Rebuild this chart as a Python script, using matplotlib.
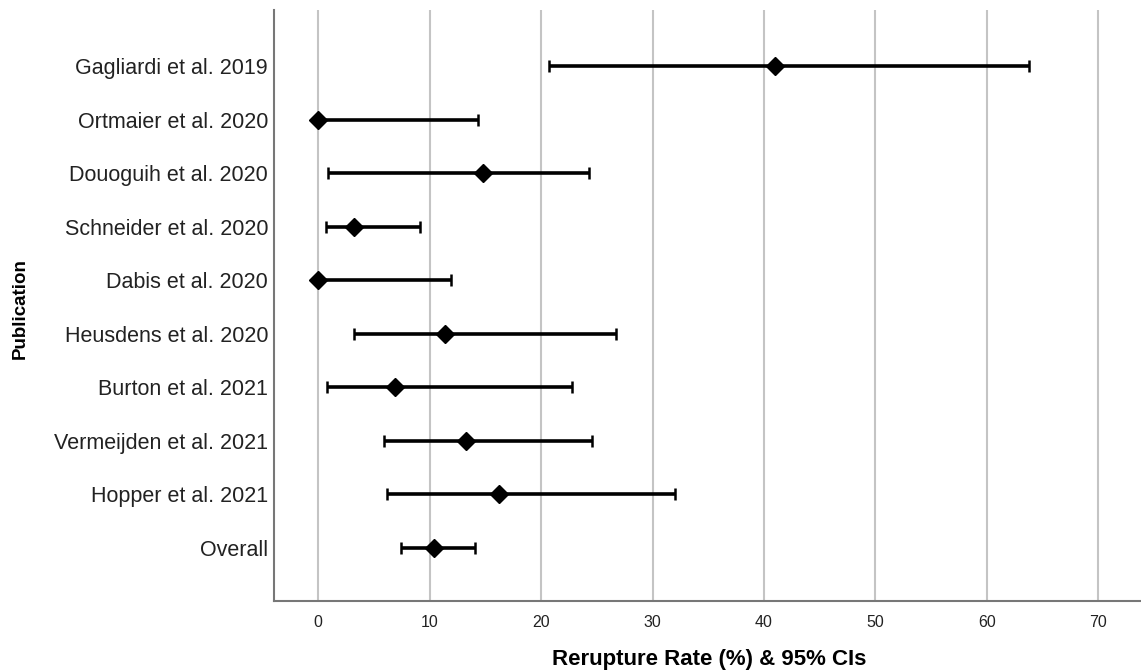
import matplotlib
matplotlib.use("Agg")
import matplotlib.pyplot as plt
import numpy as np

plt.rcParams['font.family'] = ['Liberation Sans', 'DejaVu Sans']

publications = ["Gagliardi et al. 2019", "Ortmaier et al. 2020", "Douoguih et al. 2020",
                "Schneider et al. 2020", "Dabis et al. 2020", "Heusdens et al. 2020",
                "Burton et al. 2021", "Vermeijden et al. 2021", "Hopper et al. 2021", "Overall"]
rate = [41.0, 0.0, 14.8, 3.2, 0.0, 11.4, 6.9, 13.3, 16.2, 10.4]
ci_low = [20.7, 0.0, 0.9, 0.7, 0.0, 3.2, 0.75, 5.9, 6.2, 7.4]
ci_high = [63.8, 14.3, 24.3, 9.1, 11.9, 26.7, 22.8, 24.6, 32.0, 14.1]
xticks = [0, 10, 20, 30, 40, 50, 60, 70]

W, H = 1141, 671
L, B, T = 274.3, 601, 10
fig = plt.figure(figsize=(W/100, H/100), dpi=100)
ax = fig.add_axes([L/W, 1 - B/H, 1 - L/W, (B - T)/H])

y = np.arange(len(publications))
r = np.array(rate)
err = np.vstack([r - np.array(ci_low), np.array(ci_high) - r])
ax.errorbar(r, y, xerr=err, fmt='D', color='black', ecolor='black',
            elinewidth=2.6, capsize=4.5, capthick=1.8, markersize=9.5, zorder=3)

ax.set_xlim(-3.95, 73.85)
ax.set_ylim(len(publications) - 1 + 1.0, -1.05)
ax.set_xticks(xticks)
ax.set_xticklabels([str(t) for t in xticks], fontsize=11.5, color='#222222')
ax.set_yticks(y)
ax.set_yticklabels(publications, fontsize=15.5, color='#222222')
ax.tick_params(axis='both', length=0)
ax.tick_params(axis='x', pad=10)
ax.tick_params(axis='y', pad=4.5)
ax.grid(axis='x', color='#c4c4c4', linewidth=1.5, zorder=0)
ax.set_axisbelow(True)
for s in ['top', 'right']:
    ax.spines[s].set_visible(False)
for s in ['left', 'bottom']:
    ax.spines[s].set_color('#777777')
    ax.spines[s].set_linewidth(1.5)

aw, ah = W - L, B - T
ax.set_xlabel("Rerupture Rate (%) & 95% CIs", fontsize=16, fontweight='bold')
ax.xaxis.set_label_coords((709 - L) / aw, (B - 659) / ah)
ax.xaxis.label.set_va('center')
ax.set_ylabel("Publication", fontsize=13.5, fontweight='bold')
ax.yaxis.set_label_coords((20 - L) / aw, (B - 309) / ah)
ax.yaxis.label.set_va('center')

fig.savefig("out.png", dpi=100)
